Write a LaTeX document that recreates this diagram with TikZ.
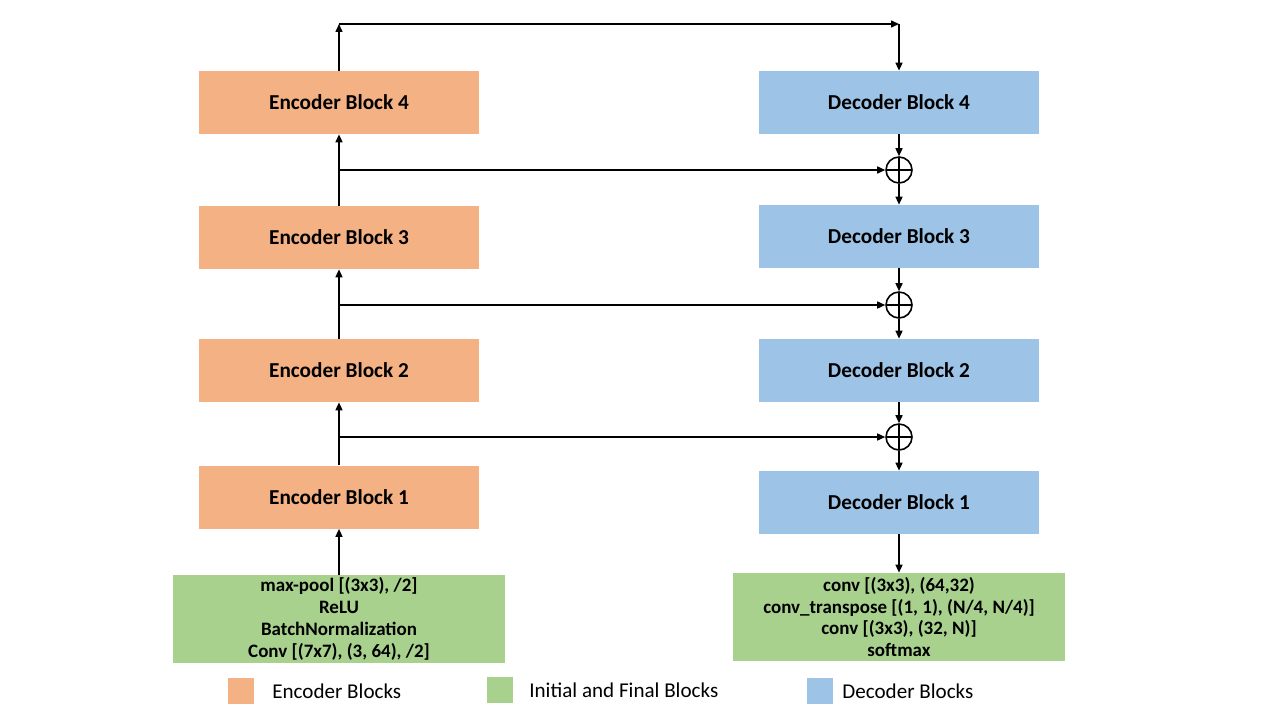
\documentclass[tikz,border=0pt]{standalone}
\usepackage{fontspec}
\setmainfont{Carlito}
\usetikzlibrary{arrows.meta}
\definecolor{encclr}{HTML}{F4B183}
\definecolor{decclr}{HTML}{9DC3E6}
\definecolor{iniclr}{HTML}{A9D18E}
\begin{document}
\begin{tikzpicture}[x=0.02cm,y=-0.02cm]
	\tikzstyle{block} = [rectangle,minimum width=5.6cm,minimum height=1.26cm,inner sep=0pt,font=\fontsize{12.1}{14}\selectfont\bfseries]
	\tikzstyle{enc} = [block,fill=encclr]
	\tikzstyle{dec} = [block,fill=decclr]
	\tikzstyle{ini} = [rectangle,fill=iniclr,minimum width=6.66cm,minimum height=1.76cm,align=center,inner sep=0pt,font=\fontsize{10.8}{12.5}\selectfont\bfseries]
	\tikzstyle{plus} = [circle,draw,line width=0.9pt,minimum size=0.52cm,inner sep=0pt,path picture={\draw[line width=0.9pt] (path picture bounding box.north) -- (path picture bounding box.south) (path picture bounding box.west) -- (path picture bounding box.east);}]
	\tikzstyle{arr} = [-{Triangle[length=0.16cm,width=0.14cm]},line width=0.85pt]
	\tikzstyle{swatch} = [rectangle,minimum size=0.52cm,inner sep=0pt]
	\tikzstyle{legtext} = [anchor=west,inner sep=0pt,font=\fontsize{12}{14}\selectfont]

	\useasboundingbox (0,0) rectangle (1280,720);

	% encoder side
	\node[enc] (e4) at (339,102.5){Encoder Block 4};
	\node[enc] (e3) at (339,237.5){Encoder Block 3};
	\node[enc] (e2) at (339,370.5){Encoder Block 2};
	\node[enc] (e1) at (339,497){Encoder Block 1};
	\node[ini] (init) at (339,619){max-pool [(3x3), /2]\\ReLU\\BatchNormalization\\Conv [(7x7), (3, 64), /2]};

	% decoder side
	\node[dec] (d4) at (899,102.5){Decoder Block 4};
	\node[dec] (d3) at (899,236.5){Decoder Block 3};
	\node[dec] (d2) at (899,370.5){Decoder Block 2};
	\node[dec] (d1) at (899,502.5){Decoder Block 1};
	\node[ini] (final) at (899,617){conv [(3x3), (64,32)\\conv\_transpose [(1, 1), (N/4, N/4)]\\conv [(3x3), (32, N)]\\softmax};

	% sums
	\node[plus] (p3) at (899,170){};
	\node[plus] (p2) at (899,305){};
	\node[plus] (p1) at (899,437){};

	\coordinate (b1) at (339,437);
	\coordinate (b2) at (339,305);
	\coordinate (b3) at (339,170);
	\coordinate (t1) at (339,24);
	\coordinate (t2) at (899,24);

	\draw[arr](init) -- (e1);
	\draw[arr](e1) -- (e2);
	\draw[arr](e2) -- (e3);
	\draw[arr](e3) -- (e4);
	\draw[arr](e4) -- (t1);
	\draw[arr](t1) -- (t2);
	\draw[arr](t2) -- (d4);

	\draw[arr](b1) -- (p1);
	\draw[arr](b2) -- (p2);
	\draw[arr](b3) -- (p3);

	\draw[arr](d4) -- (p3);
	\draw[arr](p3) -- (d3);
	\draw[arr](d3) -- (p2);
	\draw[arr](p2) -- (d2);
	\draw[arr](d2) -- (p1);
	\draw[arr](p1) -- (d1);
	\draw[arr](d1) -- (final);

	% legend
	\node[swatch,fill=encclr] (lenc) at (241,691){};
	\node[swatch,fill=iniclr] (lini) at (500,690){};
	\node[swatch,fill=decclr] (ldec) at (820,691){};
	\node[legtext] (tenc) at (272,691){Encoder Blocks};
	\node[legtext] (tini) at (529,690){Initial and Final Blocks};
	\node[legtext] (tdec) at (842,691){Decoder Blocks};
\end{tikzpicture}
\end{document}
